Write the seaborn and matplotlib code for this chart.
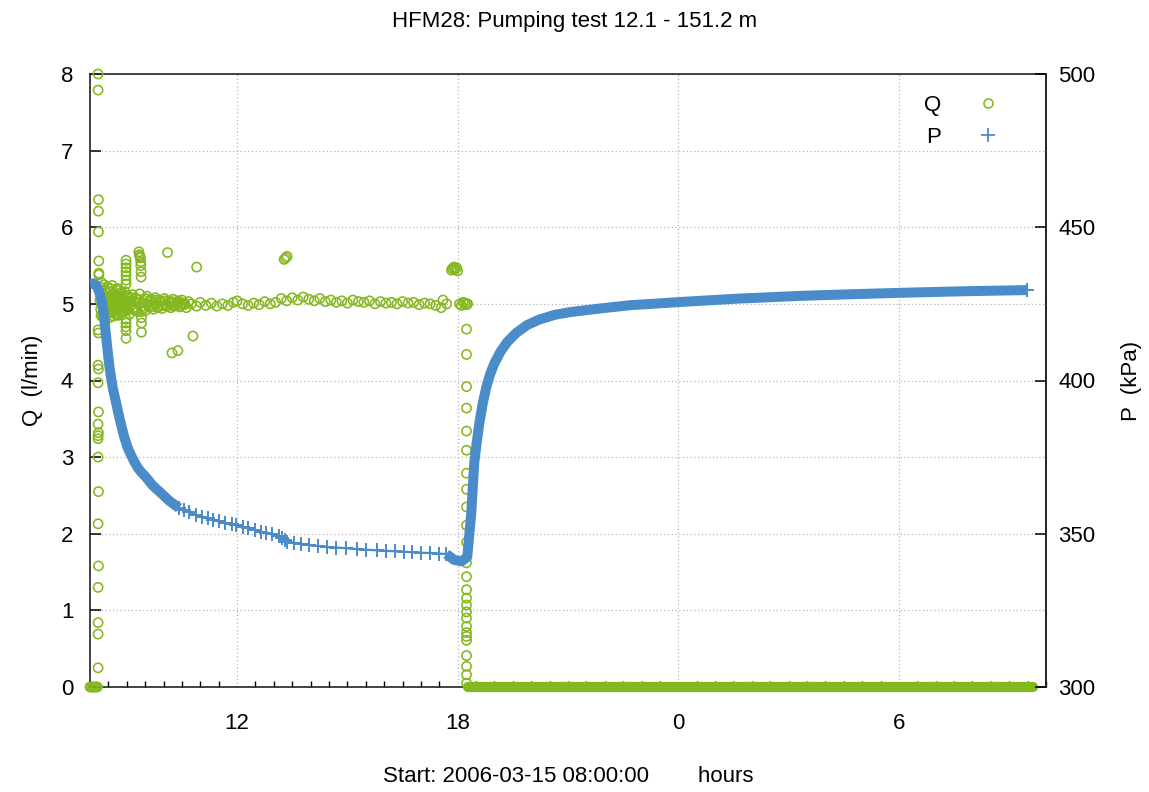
import numpy as np
import pandas as pd
import matplotlib
matplotlib.use("Agg")
import matplotlib.pyplot as plt
from matplotlib.lines import Line2D
from matplotlib.ticker import FixedLocator, MultipleLocator
import seaborn as sns

# ---------------- data (elapsed hours since 2006-03-15 08:00) ----------------
# Q (l/min): start-up spikes
q_start_t = [0.00, 0.04, 0.08, 0.12, 0.16, 0.20,
             0.22, 0.22, 0.23, 0.23, 0.23, 0.24, 0.24, 0.24, 0.22, 0.23, 0.22, 0.23,
             0.22, 0.23, 0.22, 0.23, 0.22, 0.22, 0.22, 0.23, 0.22, 0.23, 0.22, 0.22,
             0.22, 0.22]
q_start_v = [0.00, 0.00, 0.00, 0.00, 0.00, 0.00,
             8.00, 7.79, 6.36, 6.21, 5.94, 5.56, 5.40, 5.38, 4.66, 4.62, 4.20, 4.15,
             3.97, 3.59, 3.43, 3.32, 3.28, 3.24, 3.00, 2.55, 2.13, 1.58, 1.30, 0.84,
             0.69, 0.25]

# Q: early pumping (dense logging)
q_early_t = [0.28, 0.30, 0.33, 0.36, 0.38, 0.41, 0.44, 0.46, 0.49, 0.52, 0.55, 0.58,
             0.61, 0.64, 0.67, 0.70, 0.73, 0.76, 0.79, 0.82, 0.85, 0.88, 0.91, 0.95,
             0.98, 0.98, 0.98, 0.98, 0.98, 0.98, 0.98, 0.98, 0.98, 0.98, 0.98, 0.98,
             1.00, 1.04, 1.08, 1.12, 1.16, 1.20, 1.25, 1.30,
             1.33, 1.34, 1.36, 1.37, 1.38, 1.38, 1.39, 1.39, 1.40, 1.40, 1.40, 1.40,
             1.35, 1.40, 1.45, 1.50, 1.55, 1.60, 1.66, 1.72, 1.78, 1.84, 1.90, 1.96,
             2.02, 2.08, 2.11, 2.14, 2.20, 2.23, 2.26, 2.32, 2.38, 2.39, 2.44, 2.50,
             2.56, 2.62, 2.68, 2.80, 2.90]
q_early_v = [5.22, 4.85, 5.10, 4.92, 5.25, 4.80, 5.15, 4.95, 5.05, 4.88, 5.20, 4.90,
             5.12, 4.84, 5.08, 4.97, 5.18, 4.86, 5.02, 5.14, 4.91, 5.06, 4.89, 5.16,
             5.57, 5.52, 5.47, 5.42, 5.37, 5.31, 5.26, 4.80, 4.75, 4.70, 4.65, 4.55,
             4.94, 5.10, 4.87, 5.04, 5.12, 4.92, 5.07, 4.90,
             5.68, 5.64, 5.62, 5.60, 5.55, 5.50, 5.42, 5.35, 4.90, 4.82, 4.75, 4.63,
             5.13, 4.96, 5.05, 4.91, 5.10, 4.97, 5.06, 4.93, 5.08, 4.95, 5.04, 4.94,
             5.07, 4.97, 5.67, 5.03, 4.95, 4.36, 5.06, 4.98, 5.02, 4.39, 4.96, 5.05,
             4.99, 4.95, 5.03, 4.58, 5.48]

# Q: early pumping, further logged samples (time, value)
q_early_more = [
    (0.27, 5.05), (0.29, 4.93), (0.31, 5.28), (0.32, 5.00), (0.34, 4.83), (0.35, 5.12),
    (0.37, 5.03), (0.39, 4.90), (0.40, 5.18), (0.42, 4.98), (0.43, 5.08), (0.45, 4.86),
    (0.47, 5.22), (0.48, 5.01), (0.50, 4.93), (0.51, 5.10), (0.53, 4.82), (0.54, 5.04),
    (0.56, 5.16), (0.57, 4.95), (0.59, 5.00), (0.60, 5.24), (0.62, 4.89), (0.63, 5.06),
    (0.65, 4.96), (0.66, 5.13), (0.68, 4.87), (0.69, 5.02), (0.71, 5.09), (0.72, 4.92),
    (0.74, 5.20), (0.75, 4.99), (0.77, 4.85), (0.78, 5.07), (0.80, 4.94), (0.81, 5.11),
    (0.83, 5.00), (0.84, 4.88), (0.86, 5.15), (0.87, 4.97), (0.89, 5.04), (0.90, 4.91),
    (0.92, 5.09), (0.94, 4.96), (0.96, 5.03), (0.99, 5.11), (1.02, 4.92), (1.06, 5.02),
    (1.10, 4.97), (1.14, 5.08), (1.18, 4.95), (1.22, 5.03), (1.27, 4.93), (1.32, 5.06),
    (1.42, 5.02), (1.47, 4.94), (1.52, 5.07), (1.57, 4.99), (1.62, 5.03), (1.68, 4.96),
    (1.74, 5.01), (1.80, 5.05), (1.86, 4.97), (1.92, 5.02), (1.98, 4.98), (2.04, 5.04),
    (2.10, 4.99), (2.16, 5.01), (2.22, 5.03), (2.28, 4.97), (2.34, 5.00), (2.40, 5.04),
    (2.46, 4.98), (2.52, 5.01), (2.58, 5.00),
]

# Q: steady pumping (sparse logging)
q_steady_t = [2.75, 2.90, 3.00, 3.15, 3.30, 3.45, 3.60, 3.75, 3.90, 4.00, 4.15, 4.30,
              4.45, 4.60, 4.75, 4.90, 5.05, 5.20, 5.28, 5.32, 5.36, 5.35, 5.50, 5.65,
              5.80, 5.95, 6.10, 6.25, 6.40, 6.55, 6.70, 6.85, 7.00, 7.15, 7.30, 7.45,
              7.60, 7.75, 7.90, 8.05, 8.20, 8.35, 8.50, 8.65, 8.80, 8.95, 9.10, 9.25,
              9.40, 9.55, 9.60, 9.70]
q_steady_v = [5.00, 4.97, 5.02, 4.98, 5.01, 4.97, 5.00, 4.98, 5.02, 5.04, 5.00, 4.98,
              5.01, 4.99, 5.03, 5.00, 5.02, 5.07, 5.58, 5.60, 5.62, 5.04, 5.08, 5.05,
              5.09, 5.06, 5.04, 5.07, 5.03, 5.05, 5.02, 5.04, 5.01, 5.05, 5.03, 5.02,
              5.04, 5.00, 5.03, 5.01, 5.02, 5.00, 5.03, 5.01, 5.02, 4.99, 5.01, 5.00,
              4.98, 4.95, 5.05, 5.00]

# Q: pump stop
q_stop_t = [9.83, 9.86, 9.90, 9.93, 9.97, 10.00, 10.05, 10.10, 10.15, 10.20, 10.24, 10.27,
            10.24, 10.24, 10.24, 10.24, 10.24, 10.24, 10.24, 10.24, 10.24, 10.24, 10.24,
            10.24, 10.24, 10.24, 10.24, 10.24, 10.24, 10.24, 10.24, 10.24, 10.24, 10.24,
            10.24, 10.24, 10.24, 10.24]
q_stop_v = [5.44, 5.46, 5.48, 5.45, 5.47, 5.43, 5.00, 4.98, 5.02, 5.01, 4.99, 5.00,
            4.67, 4.34, 3.92, 3.64, 3.34, 3.09, 2.79, 2.58, 2.35, 2.11, 1.89, 1.62,
            1.44, 1.27, 1.16, 1.07, 0.98, 0.90, 0.79, 0.71, 0.66, 0.61, 0.41, 0.27,
            0.16, 0.05]

# Q: recovery, pump off (dense logging of zero flow)
q_off_t = [10.27, 25.65]
q_off_v = [0.0, 0.0]

# P (kPa): drawdown, dense logging
p_draw_t = [0.00, 0.10, 0.18, 0.26, 0.33, 0.39, 0.44, 0.49, 0.54, 0.62, 0.71, 0.82,
            0.93, 1.02, 1.12, 1.22, 1.30, 1.40, 1.52, 1.70, 1.93, 2.15, 2.42]
p_draw_v = [431.5, 431.7, 431.0, 428.5, 425.3, 420.0, 414.2, 408.5, 403.4, 397.5, 392.7, 386.8,
            381.6, 378.2, 375.5, 373.2, 371.5, 370.0, 368.5, 365.8, 363.3, 360.8, 358.4]

# P: drawdown, sparse logging
p_slow_t = [2.42, 2.55, 2.70, 2.88, 3.05, 3.20, 3.35, 3.50, 3.68, 3.85, 3.97, 4.15,
            4.30, 4.48, 4.65, 4.80, 4.95, 5.14, 5.22, 5.30, 5.36, 5.55, 5.75, 5.95,
            6.20, 6.45, 6.70, 6.97, 7.25, 7.50, 7.80, 8.05, 8.30, 8.55, 8.76, 9.00,
            9.25, 9.50, 9.69]
p_slow_v = [358.4, 357.7, 357.0, 356.1, 355.6, 355.0, 354.5, 354.0, 353.5, 353.1, 352.8, 352.3,
            351.8, 351.2, 350.7, 350.2, 349.8, 349.3, 348.6, 347.8, 347.3, 347.0, 346.7, 346.4,
            346.0, 345.7, 345.5, 345.3, 345.0, 344.8, 344.6, 344.4, 344.3, 344.1, 344.0, 343.8,
            343.7, 343.5, 343.4]

# P: recovery, dense logging
p_rec_t = [9.69, 9.78, 9.90, 10.10, 10.26, 10.31, 10.37, 10.41, 10.45, 10.52, 10.59, 10.68,
           10.78, 10.89, 11.00, 11.17, 11.35, 11.60, 11.89, 12.20, 12.63, 13.05, 13.52, 14.10,
           14.72, 15.40, 16.03, 17.60, 19.29, 20.60, 22.01, 23.70, 25.47]
p_rec_v = [343.4, 342.6, 341.5, 341.0, 342.4, 349.0, 356.8, 365.0, 373.1, 380.0, 386.1, 392.5,
           397.9, 402.3, 405.7, 409.5, 412.6, 415.6, 418.1, 419.8, 421.4, 422.3, 423.0, 423.8,
           424.6, 425.1, 425.6, 426.7, 427.6, 428.1, 428.6, 429.1, 429.5]

x_tick_pos = [4, 10, 16, 22]
x_tick_lab = ["12", "18", "0", "6"]
q_ticks = [0, 1, 2, 3, 4, 5, 6, 7, 8]
p_ticks = [300, 350, 400, 450, 500]

GREEN = "#84b81f"
BLUE = "#4a8cc9"

# ---------------- figure ----------------
sns.set_theme(style="white")
plt.rcParams["font.family"] = ["Liberation Sans", "DejaVu Sans"]
plt.rcParams["text.color"] = "black"
plt.rcParams["axes.labelcolor"] = "black"
plt.rcParams["xtick.color"] = "black"
plt.rcParams["ytick.color"] = "black"

fig = plt.figure(figsize=(11.49, 7.92), dpi=100)
ax = fig.add_axes([90 / 1149, 1 - 687 / 792, 956 / 1149, 613 / 792])
ax2 = ax.twinx()

q_pts = pd.DataFrame({
    "t": q_start_t + q_early_t + [p[0] for p in q_early_more] + q_steady_t + q_stop_t,
    "q": q_start_v + q_early_v + [p[1] for p in q_early_more] + q_steady_v + q_stop_v,
})

# Q: pump-off band
sns.lineplot(x=q_off_t, y=q_off_v, ax=ax, color=GREEN, lw=7.4,
             solid_capstyle="round", estimator=None, sort=False)
ax.lines[-1].set_clip_on(False)
ax.lines[-1].set_zorder(3)
# Q points
sns.scatterplot(data=q_pts, x="t", y="q", ax=ax, marker="o", s=44,
                facecolors="none", edgecolor=GREEN, linewidth=1.15, clip_on=False,
                legend=False, zorder=3)

# P
sns.lineplot(x=p_draw_t, y=p_draw_v, ax=ax2, color=BLUE, lw=7.2,
             estimator=None, sort=False, solid_capstyle="butt", solid_joinstyle="round")
sns.lineplot(x=p_slow_t, y=p_slow_v, ax=ax2, color=BLUE, lw=1.6,
             estimator=None, sort=False)
sns.scatterplot(x=p_slow_t, y=p_slow_v, ax=ax2, marker="+", s=90,
                color=BLUE, linewidth=1.4, legend=False)
sns.lineplot(x=p_rec_t, y=p_rec_v, ax=ax2, color=BLUE, lw=7.2,
             estimator=None, sort=False, solid_capstyle="butt", solid_joinstyle="round")
sns.scatterplot(x=[p_rec_t[-1]], y=[p_rec_v[-1]], ax=ax2, marker="+", s=100,
                color=BLUE, linewidth=1.4, legend=False)

# axes
ax.set_xlim(0, 26)
ax.set_ylim(0, 8)
ax2.set_ylim(300, 500)
ax.xaxis.set_major_locator(FixedLocator(x_tick_pos))
ax.set_xticklabels(x_tick_lab)
ax.xaxis.set_minor_locator(MultipleLocator(0.5))
ax.set_yticks(q_ticks)
ax2.set_yticks(p_ticks)

fs = 16
ax.tick_params(axis="x", which="major", direction="in", length=8, width=1.1,
               pad=19, labelsize=fs, colors="black", top=False)
ax.tick_params(axis="x", which="minor", direction="in", length=4, width=1.0,
               top=False, bottom=True)
ax.tick_params(axis="y", which="major", direction="in", length=8, width=1.1,
               pad=12, labelsize=fs, colors="black")
ax2.tick_params(axis="y", which="major", direction="in", length=8, width=1.1,
                pad=9, labelsize=fs, colors="black")

ax.grid(True, which="major", linestyle=(0, (1, 2)), color="#b5b5b5", lw=0.9)
ax2.grid(False)
ax.set_axisbelow(True)

ax.set_ylabel("Q  (l/min)", fontsize=fs, labelpad=13)
ax2.set_ylabel("P  (kPa)", fontsize=fs, labelpad=18)
ax.set_xlabel("Start: 2006-03-15 08:00:00        hours", fontsize=fs, labelpad=23)
fig.suptitle("HFM28: Pumping test 12.1 - 151.2 m", fontsize=fs, x=0.5,
             y=1 - 21 / 792, va="center", color="black")

for s in ax.spines.values():
    s.set_visible(True)
    s.set_color("#222222")
    s.set_linewidth(1.2)
    s.set_zorder(2.5)
for name, s in ax2.spines.items():
    s.set_color("#222222")
    s.set_linewidth(1.2)
    s.set_visible(name == "right")

handles = [
    Line2D([], [], ls="", marker="o", markersize=6.5, markerfacecolor="none",
           markeredgecolor=GREEN, markeredgewidth=1.15, label="Q"),
    Line2D([], [], ls="", marker="+", markersize=9.5, markeredgecolor=BLUE,
           markeredgewidth=1.3, label="P"),
]
ax2.legend(handles=handles, loc="upper right", bbox_to_anchor=(0.972, 0.981),
           borderaxespad=0, frameon=False, markerfirst=False, fontsize=fs,
           handlelength=2.0, handletextpad=1.1, labelspacing=0.5)

fig.savefig("out.png", dpi=100)
